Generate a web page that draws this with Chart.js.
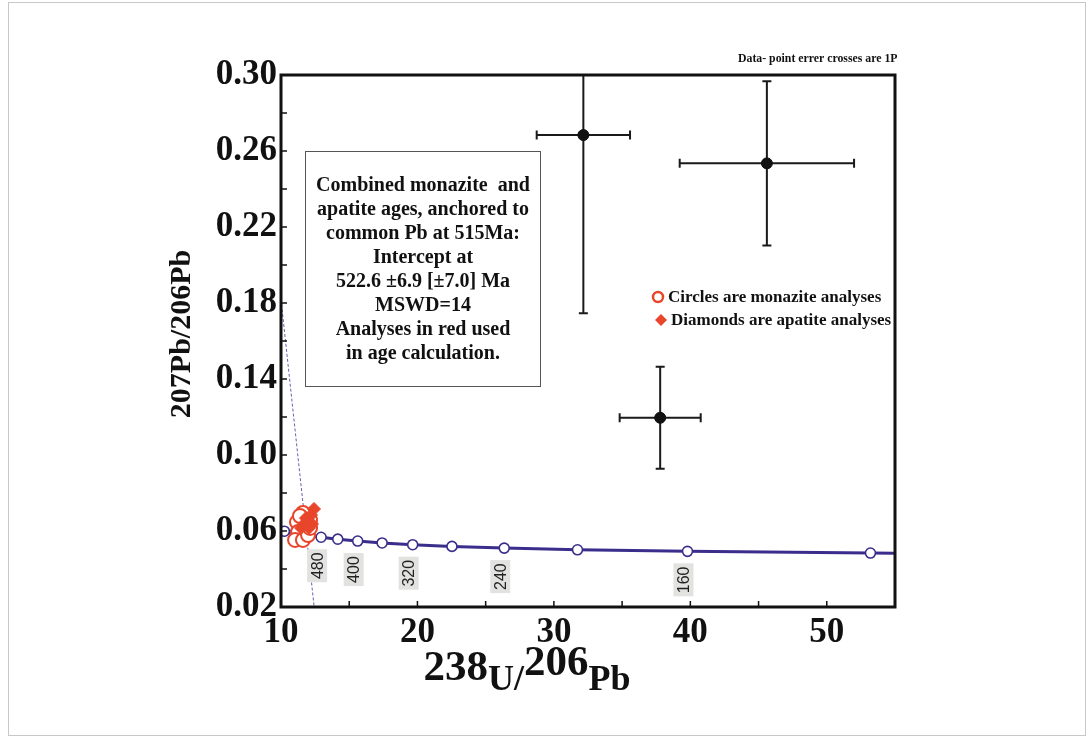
<!DOCTYPE html>
<html><head><meta charset="utf-8">
<script src="https://cdn.jsdelivr.net/npm/chart.js@4.4.0/dist/chart.umd.min.js"></script>
<style>html,body{margin:0;padding:0;background:#fff;}#wrap{width:1091px;height:738px;position:relative;}</style>
</head><body><div id="wrap"><canvas id="c" width="1091" height="738"></canvas></div>
<script>
// ---- axes ----
const xTickLabels = ['10','20','30','40','50'];
const yTickLabels = ['0.02','0.06','0.10','0.14','0.18','0.22','0.26','0.30'];
// ---- concordia (Ma ticks) ----
const concordiaAges = [600,560,520,480,440,400,360,320,280,240,200,160,120];
const concordiaX = [10.25,11.02,11.90,12.94,14.16,15.62,17.41,19.65,22.53,26.36,31.73,39.79,53.2];
const concordiaY = [0.0599,0.0588,0.0578,0.0567,0.0557,0.0547,0.0537,0.0528,0.0519,0.0510,0.0501,0.0493,0.0484];
const concordiaLineX = [9.8,10.25,11.02,11.90,12.94,14.16,15.62,17.41,19.65,22.53,26.36,31.73,39.79,53.2,56];
const concordiaLineY = [0.0606,0.0599,0.0588,0.0578,0.0567,0.0557,0.0547,0.0537,0.0528,0.0519,0.0510,0.0501,0.0493,0.0484,0.0483];
const labelledAges = [480,400,320,240,160];
// ---- discordia anchored to common Pb ----
const discordiaX = [10, 12.43];
const discordiaY = [0.182, 0.02];
// ---- monazite (circles) ----
const monaziteX = [11.17,11.61,12.13,11.25,11.03,11.61,11.98,12.13,11.39];
const monaziteY = [0.0647,0.0695,0.0658,0.0595,0.0553,0.0553,0.0579,0.0616,0.0679];
// ---- apatite (diamonds) ----
const apatiteX = [12.42,12.20,11.98,11.69,12.27,11.47,12.05,11.83];
const apatiteY = [0.0716,0.0684,0.0653,0.0637,0.0637,0.0616,0.0616,0.0668];
// ---- analyses not used (black, 1 sigma crosses) ----
const otherX = [32.16,45.61,37.79];
const otherY = [0.2684,0.2535,0.1196];
const otherXErr = [3.42,6.39,2.97];
const otherYErr = [0.0938,0.0432,0.0269];

const boxLines = ['Combined monazite  and','apatite ages, anchored to','common Pb at 515Ma:','Intercept at','522.6 \u00b16.9 [\u00b17.0] Ma','MSWD=14','Analyses in red used','in age calculation.'];

const RED = '#e8462a', NAVY = '#3a2d8c', SERIF = '"Liberation Serif","Times New Roman",serif';
const pts = (xs, ys) => xs.map((v, i) => ({x: v, y: ys[i]}));

const decor = {
  id: 'decor',
  beforeDraw(chart) {
    const ctx = chart.ctx;
    ctx.save();
    ctx.fillStyle = '#fff'; ctx.fillRect(0, 0, chart.width, chart.height);
    ctx.strokeStyle = '#c8c8c8'; ctx.lineWidth = 1;
    ctx.strokeRect(8.5, 2.5, 1077, 733);
    ctx.restore();
  },
  beforeDatasetsDraw(chart) {
    const ctx = chart.ctx, xs = chart.scales.x, ys = chart.scales.y, a = chart.chartArea;
    ctx.save();
    ctx.beginPath(); ctx.rect(a.left, a.top, a.right - a.left, a.bottom - a.top); ctx.clip();
    ctx.strokeStyle = '#1a1a1a'; ctx.lineWidth = 2;
    for (let i = 0; i < otherX.length; i++) {
      const x1 = xs.getPixelForValue(otherX[i] - otherXErr[i]), x2 = xs.getPixelForValue(otherX[i] + otherXErr[i]);
      const y1 = ys.getPixelForValue(otherY[i] + otherYErr[i]), y2 = ys.getPixelForValue(otherY[i] - otherYErr[i]);
      const cx = xs.getPixelForValue(otherX[i]), cy = ys.getPixelForValue(otherY[i]);
      ctx.beginPath();
      ctx.moveTo(x1, cy); ctx.lineTo(x2, cy);
      ctx.moveTo(cx, y1); ctx.lineTo(cx, y2);
      ctx.moveTo(x1, cy - 4.5); ctx.lineTo(x1, cy + 4.5);
      ctx.moveTo(x2, cy - 4.5); ctx.lineTo(x2, cy + 4.5);
      ctx.moveTo(cx - 4.5, y1); ctx.lineTo(cx + 4.5, y1);
      ctx.moveTo(cx - 4.5, y2); ctx.lineTo(cx + 4.5, y2);
      ctx.stroke();
    }
    ctx.restore();
  },
  afterDatasetsDraw(chart) {
    const ctx = chart.ctx, xs = chart.scales.x, ys = chart.scales.y, a = chart.chartArea;
    ctx.save();
    // age labels on the concordia
    ctx.font = '16px "Liberation Sans", Arial, sans-serif';
    labelledAges.forEach(age => {
      const i = concordiaAges.indexOf(age);
      const px = xs.getPixelForValue(concordiaX[i]) - 4;
      const py = ys.getPixelForValue(concordiaY[i]) + 12;
      ctx.fillStyle = '#e2e2e0';
      ctx.fillRect(px - 10, py, 20, 33);
      ctx.save();
      ctx.translate(px, py + 16.5); ctx.rotate(-Math.PI / 2);
      ctx.fillStyle = '#222'; ctx.textAlign = 'center'; ctx.textBaseline = 'middle';
      ctx.fillText(String(age), 0, 1);
      ctx.restore();
    });
    // frame
    ctx.strokeStyle = '#111'; ctx.lineWidth = 3;
    ctx.strokeRect(a.left, a.top, a.right - a.left, a.bottom - a.top);
    // inner ticks
    ctx.lineWidth = 1.5;
    ctx.beginPath();
    xs.ticks.forEach(t => {
      if (t.value <= xs.min || t.value >= xs.max) return;
      const p = xs.getPixelForValue(t.value);
      ctx.moveTo(p, a.bottom); ctx.lineTo(p, a.bottom - 6);
    });
    ys.ticks.forEach(t => {
      if (t.value <= ys.min + 1e-9 || t.value >= ys.max - 1e-9) return;
      const p = ys.getPixelForValue(t.value);
      ctx.moveTo(a.left, p); ctx.lineTo(a.left + 6, p);
    });
    ctx.stroke();
    // text box
    ctx.fillStyle = '#fff'; ctx.fillRect(305.5, 151.5, 235, 235);
    ctx.strokeStyle = '#555'; ctx.lineWidth = 1; ctx.strokeRect(305.5, 151.5, 235, 235);
    ctx.fillStyle = '#111'; ctx.textAlign = 'center'; ctx.textBaseline = 'middle';
    ctx.font = 'bold 20px ' + SERIF;
    boxLines.forEach((s, k) => ctx.fillText(s, 423, 186 + k * 24));
    // legend
    ctx.textAlign = 'left';
    ctx.font = 'bold 17px ' + SERIF;
    ctx.strokeStyle = RED; ctx.lineWidth = 2.5;
    ctx.beginPath(); ctx.arc(658, 297, 5, 0, Math.PI * 2); ctx.stroke();
    ctx.fillStyle = '#111'; ctx.fillText('Circles are monazite analyses', 668, 298);
    ctx.fillStyle = RED;
    ctx.beginPath(); ctx.moveTo(661, 314); ctx.lineTo(667, 320); ctx.lineTo(661, 326); ctx.lineTo(655, 320); ctx.closePath(); ctx.fill();
    ctx.fillStyle = '#111'; ctx.fillText('Diamonds are apatite analyses', 671, 321);
    // note
    ctx.font = 'bold 11.8px ' + SERIF;
    ctx.fillText('Data- point errer crosses are 1P', 738, 59);
    // y title
    ctx.save();
    ctx.translate(182, 334); ctx.rotate(-Math.PI / 2);
    ctx.textAlign = 'center'; ctx.font = 'bold 30px ' + SERIF;
    ctx.fillText('207Pb/206Pb', 0, 0);
    ctx.restore();
    // x title
    const parts = [['238', 43, 0], ['U/', 36, 10], ['206', 43, -5], ['Pb', 36, 10]];
    ctx.textBaseline = 'alphabetic';
    let total = 0;
    parts.forEach(p => { ctx.font = 'bold ' + p[1] + 'px ' + SERIF; total += ctx.measureText(p[0]).width; });
    let cx = 527 - total / 2;
    parts.forEach(p => { ctx.font = 'bold ' + p[1] + 'px ' + SERIF; ctx.fillText(p[0], cx, 680 + p[2]); cx += ctx.measureText(p[0]).width; });
    ctx.restore();
  }
};

new Chart(document.getElementById('c'), {
  type: 'scatter',
  data: {
    datasets: [
      {label: 'others', data: pts(otherX, otherY), pointRadius: 5.5, pointBackgroundColor: '#111', pointBorderColor: '#111', order: 0},
      {label: 'apatite', data: pts(apatiteX, apatiteY), pointStyle: 'rectRot', pointRadius: 6.5, pointBackgroundColor: RED, pointBorderColor: RED, pointBorderWidth: 1, order: 1},
      {label: 'monazite', data: pts(monaziteX, monaziteY), pointStyle: 'circle', pointRadius: 7, pointBackgroundColor: '#fff', pointBorderColor: RED, pointBorderWidth: 2, order: 2},
      {label: 'concordia pts', data: pts(concordiaX, concordiaY), pointRadius: 5, pointBackgroundColor: '#fff', pointBorderColor: NAVY, pointBorderWidth: 1.6, order: 3},
      {label: 'concordia', data: pts(concordiaLineX, concordiaLineY), showLine: true, pointRadius: 0, borderColor: NAVY, borderWidth: 3, tension: 0, order: 4},
      {label: 'discordia', data: pts(discordiaX, discordiaY), showLine: true, pointRadius: 0, borderColor: '#6a60b0', borderWidth: 1, borderDash: [3, 2], order: 5}
    ]
  },
  options: {
    responsive: false, animation: false, events: [],
    layout: {padding: {left: 0, top: 75, right: 196, bottom: 0}},
    plugins: {legend: {display: false}, tooltip: {enabled: false}},
    scales: {
      x: {
        type: 'linear', min: 10, max: 55,
        grid: {display: false, drawTicks: false}, border: {display: false},
        ticks: {stepSize: 5, autoSkip: false, maxRotation: 0, padding: 5, color: '#111',
          font: {family: SERIF, size: 35, weight: 'bold'},
          callback: v => xTickLabels.includes(String(v)) ? String(v) : ''},
        afterFit: s => { s.height = 131; }
      },
      y: {
        type: 'linear', min: 0.02, max: 0.30,
        grid: {display: false, drawTicks: false}, border: {display: false},
        ticks: {stepSize: 0.02, autoSkip: false, padding: 4, color: '#111',
          font: {family: SERIF, size: 35, weight: 'bold'},
          callback: v => { const s = (Math.round(v * 100) / 100).toFixed(2); return yTickLabels.includes(s) ? s : ''; }},
        afterFit: s => { s.width = 281; }
      }
    }
  },
  plugins: [decor]
});
</script></body></html>
